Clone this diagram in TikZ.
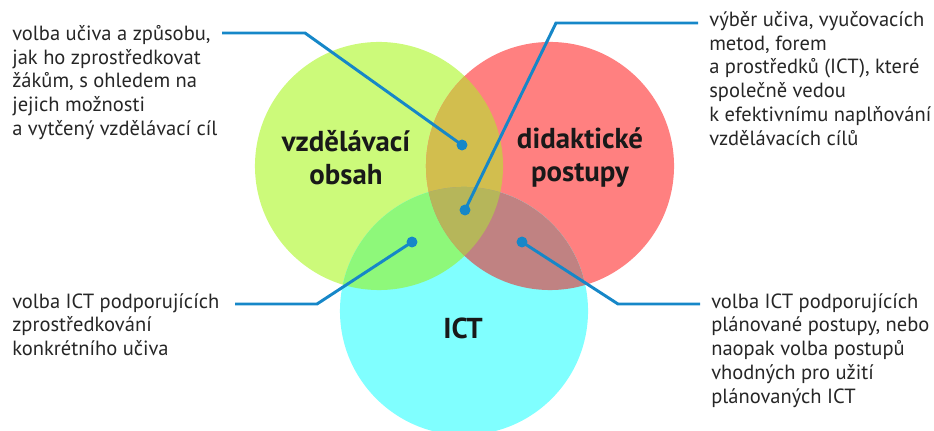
\documentclass[tikz,border=0pt]{standalone}
\usepackage{fontspec}
\setmainfont{PT Sans}
\usetikzlibrary{positioning}
\definecolor{obsah}{RGB}{204,250,122}
\definecolor{postupy}{RGB}{255,128,128}
\definecolor{ict}{RGB}{128,255,255}
\definecolor{obsahpostupy}{RGB}{210,190,78}
\definecolor{obsahict}{RGB}{142,248,122}
\definecolor{postupyict}{RGB}{192,130,130}
\definecolor{vsechny}{RGB}{182,182,90}
\definecolor{spojnice}{RGB}{22,135,200}
\tikzset{
  popis/.style={anchor=north west, align=left, inner sep=0pt,
    font=\fontsize{14.6}{16.9}\selectfont, text=black!85},
  kruhpopis/.style={align=center, inner sep=0pt,
    font=\bfseries\fontsize{20.5}{23.5}\selectfont, text=black!90},
  tecka/.style={circle, fill=spojnice, inner sep=0pt, minimum size=7.8pt},
  spoj/.style={draw=spojnice, line width=2.1pt},
}

\begin{document}
\begin{tikzpicture}[x=0.025cm, y=-0.025cm]
  \useasboundingbox (0,0) rectangle (934,431);

  % Circles
  \coordinate (G) at (379,166);
  \coordinate (R) at (550,166);
  \coordinate (C) at (464,311);

  \fill[obsah] (G) circle[radius=3.1cm];
  \fill[postupy] (R) circle[radius=3.1cm];
  \fill[ict] (C) circle[radius=3.1cm];

  % Overlaps
  \begin{scope}
    \clip (G) circle[radius=3.1cm];
    \fill[obsahpostupy] (R) circle[radius=3.1cm];
    \fill[obsahict] (C) circle[radius=3.1cm];
  \end{scope}
  \begin{scope}
    \clip (R) circle[radius=3.1cm];
    \fill[postupyict] (C) circle[radius=3.1cm];
  \end{scope}
  \begin{scope}
    \clip (G) circle[radius=3.1cm];
    \clip (R) circle[radius=3.1cm];
    \fill[vsechny] (C) circle[radius=3.1cm];
  \end{scope}

  % Circle labels
  \node[kruhpopis] (obsahtxt) at (346,158) {vzdělávací\\obsah};
  \node[kruhpopis] (postupytxt) at (580,158) {didaktické\\postupy};
  \node[kruhpopis] (icttxt) at (463,328) {ICT};

  % Notes
  \node[popis] (ta) at (12,25) {volba učiva a způsobu,\\jak ho zprostředkovat\\žákům, s ohledem na\\jejich možnosti\\a vytčený vzdělávací cíl};
  \node[popis] (tb) at (709,11) {výběr učiva, vyučovacích\\metod, forem\\a prostředků (ICT), které\\společně vedou\\k efektivnímu naplňování\\vzdělávacích cílů};
  \node[popis] (tc) at (12,293) {volba ICT podporujících\\zprostředkování\\konkrétního učiva};
  \node[popis] (td) at (711,293) {volba ICT podporujících\\plánované postupy, nebo\\naopak volba postupů\\vhodných pro užití\\plánovaných ICT};

  % Dots
  \node[tecka] (da) at (462,145) {};
  \node[tecka] (db) at (465,210) {};
  \node[tecka] (dc) at (412,242) {};
  \node[tecka] (dd) at (522,242) {};

  % Leader lines
  \coordinate (ea) at (222,33);
  \coordinate (ka) at (305,33);
  \coordinate (eb) at (698,23);
  \coordinate (kb) at (556,23);
  \coordinate (ec) at (235,304);
  \coordinate (kc) at (317,304);
  \coordinate (ed) at (700,304);
  \coordinate (kd) at (618,304);

  \draw[spoj] (ea) -- (ka) -- (da.center);
  \draw[spoj] (eb) -- (kb) -- (db.center);
  \draw[spoj] (ec) -- (kc) -- (dc.center);
  \draw[spoj] (ed) -- (kd) -- (dd.center);
\end{tikzpicture}
\end{document}
